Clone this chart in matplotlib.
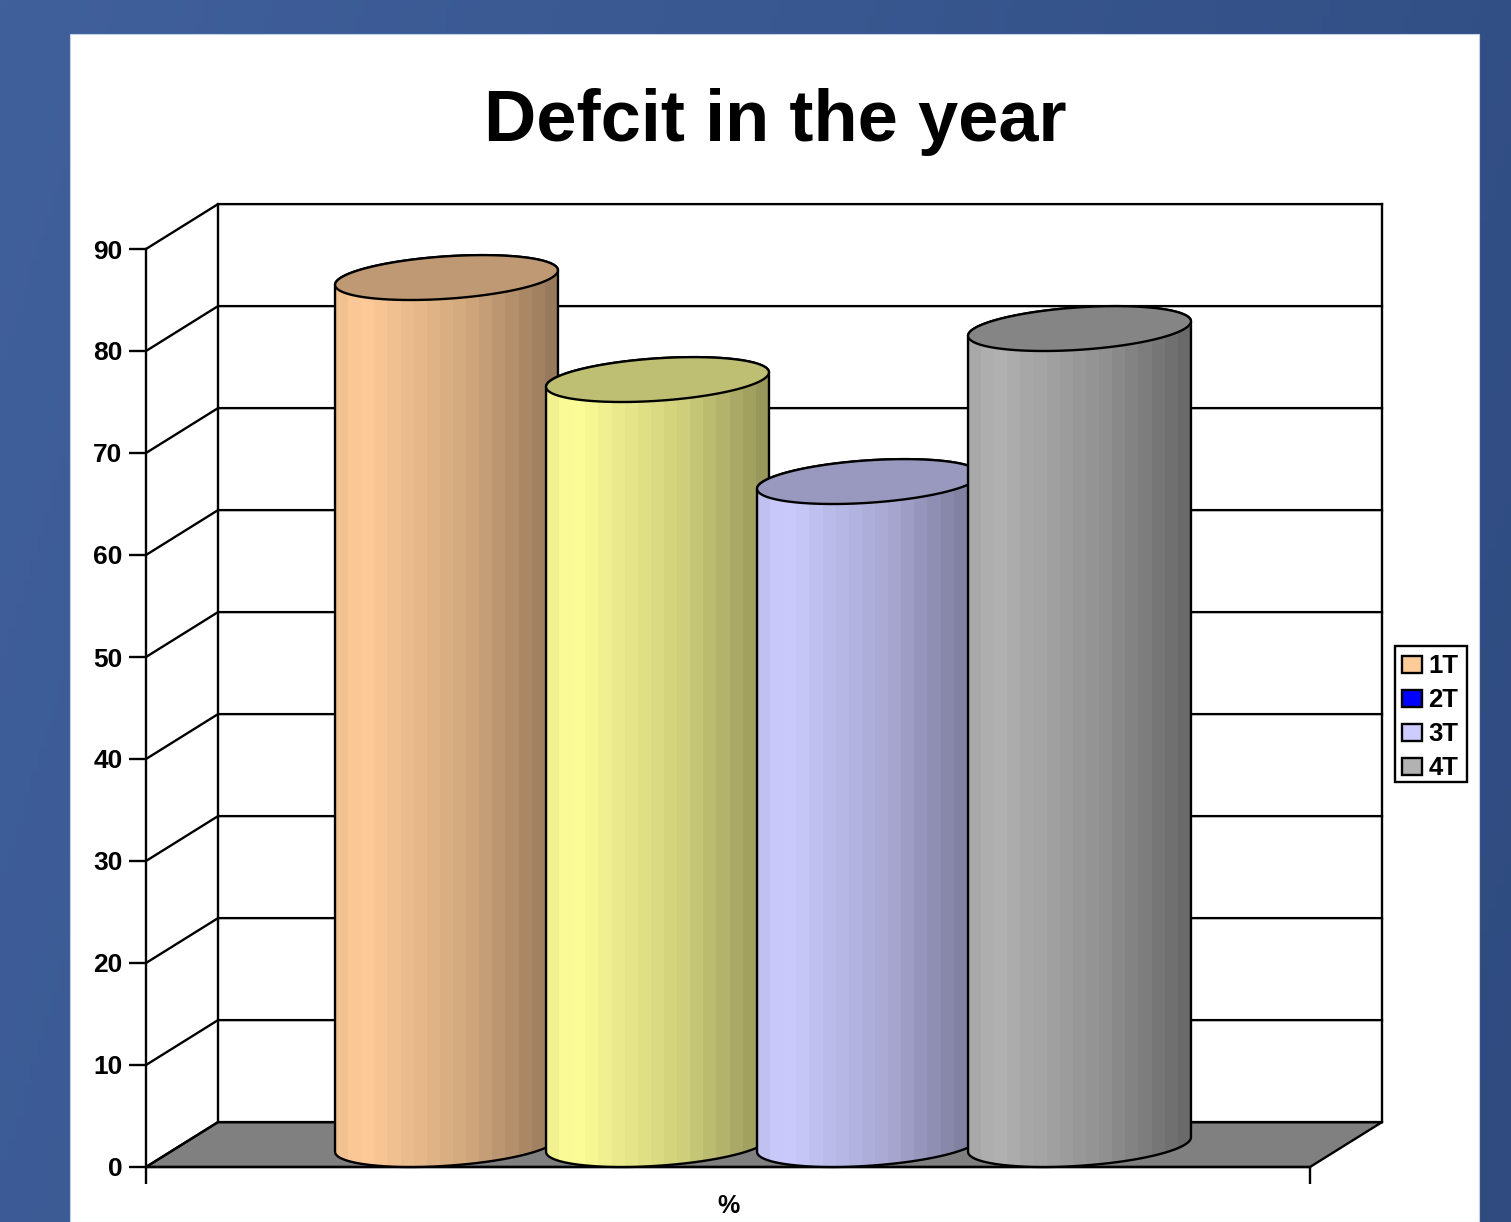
import numpy as np
import matplotlib
matplotlib.use("Agg")
import matplotlib.pyplot as plt
from matplotlib.patches import Patch, Polygon, Rectangle

plt.rcParams["font.family"] = ["Liberation Sans", "DejaVu Sans"]

# chart data
series_names = ["1T", "2T", "3T", "4T"]
series_values = [85, 75, 65, 80]
y_ticks = [0, 10, 20, 30, 40, 50, 60, 70, 80, 90]
x_label = "%"
chart_title = "Defcit in the year"

# styles
legend_colors = ["#FFCC99", "#0000FF", "#CCCCFF", "#B2B2B2"]
bar_colors = ["#FFCC99", "#FFFF99", "#CCCCFF", "#B2B2B2"]
top_shade = 0.75
LW = 1.7

W, H = 1511, 1222
fig = plt.figure(figsize=(W / 100, H / 100), dpi=100)


def px_box(left, top, right, bottom):
    """pixel box -> figure fraction rect"""
    return [left / W, 1 - bottom / H, (right - left) / W, (bottom - top) / H]


# blue slide background and white panel
bg = fig.add_axes([0, 0, 1, 1])
xx, yy = np.meshgrid(np.linspace(0, 1, 200), np.linspace(0, 1, 160))
mix = (xx * 0.8 + yy * 0.2)[..., None]
grad = (1 - mix) * np.array([0x40, 0x60, 0x9C]) / 255 + mix * np.array([0x2F, 0x4B, 0x80]) / 255
bg.imshow(grad, extent=[0, W, H, 0], aspect="auto")
bg.add_patch(Rectangle((70, 34), 1409, H - 34, facecolor="white", edgecolor="#C4D0E8", linewidth=0.8))
# legend frame
bg.add_patch(Rectangle((1395, 646), 72, 136, facecolor="white", edgecolor="black", linewidth=LW))
bg.set_xlim(0, W)
bg.set_ylim(H, 0)
bg.axis("off")

# front plane of the 3d box
ax = fig.add_axes(px_box(146, 249, 1310, 1167))
ax.patch.set_visible(False)
ax.set_xlim(0, 1)
ax.set_ylim(0, 90)

depth_x = 72 / 1164
depth_y = 4.4
bar_w = 211 / 1164
group_left = (1 - bar_w * len(series_values)) / 2 - 1 / 1164

# floor
ax.add_patch(Polygon([(0, 0), (depth_x, depth_y), (1 + depth_x, depth_y), (1, 0)],
                     closed=True, facecolor="#808080", edgecolor="black",
                     linewidth=LW, clip_on=False, zorder=1))

# side wall and back wall grid
for v in y_ticks:
    ax.plot([0, depth_x, 1 + depth_x], [v, v + depth_y, v + depth_y],
            color="black", linewidth=LW, clip_on=False, zorder=1.5)
ax.plot([depth_x, depth_x], [depth_y, 90 + depth_y], color="black", linewidth=LW, clip_on=False, zorder=1.5)
ax.plot([1 + depth_x, 1 + depth_x], [depth_y, 90 + depth_y], color="black", linewidth=LW, clip_on=False, zorder=1.5)

# cylinders, drawn left to right so each one overlaps the previous
a = bar_w / 2
b = depth_x / 2
theta0 = np.arctan2(b, a)
half_w = np.hypot(a, b)
shade_pos = [0.0, 0.12, 0.3, 0.6, 1.0]
shade_val = [0.93, 1.0, 0.93, 0.82, 0.58]
n_bands = 17

for i, val in enumerate(series_values):
    cx = group_left + bar_w * (i + 0.5) + depth_x / 2
    z = 3 + i
    base_c = np.array(matplotlib.colors.to_rgb(bar_colors[i]))

    t_low = np.linspace(theta0 + np.pi, theta0 + 2 * np.pi, 60)
    t_up = np.linspace(theta0, theta0 + np.pi, 60)
    low = np.c_[cx + a * np.cos(t_low) + b * np.sin(t_low), depth_y / 2 + depth_y / 2 * np.sin(t_low)]
    up = np.c_[cx + a * np.cos(t_up) + b * np.sin(t_up), val + depth_y / 2 + depth_y / 2 * np.sin(t_up)]
    body = Polygon(np.r_[low, up], closed=True, transform=ax.transData,
                   facecolor="none", edgecolor="black", linewidth=LW, clip_on=False, zorder=z + 0.2)

    # banded shading across the cylinder
    pos = (np.arange(n_bands) + 0.5) / n_bands
    strip = np.interp(pos, shade_pos, shade_val)[None, :, None] * base_c
    img = ax.imshow(strip, extent=[cx - half_w, cx + half_w, 0, val + depth_y],
                    aspect="auto", interpolation="nearest", origin="lower", zorder=z)
    ax.add_patch(body)
    img.set_clip_path(body)

    # top face
    t = np.linspace(0, 2 * np.pi, 120)
    top = np.c_[cx + a * np.cos(t) + b * np.sin(t), val + depth_y / 2 + depth_y / 2 * np.sin(t)]
    ax.add_patch(Polygon(top, closed=True, facecolor=base_c * top_shade, edgecolor="black",
                         linewidth=LW, clip_on=False, zorder=z + 0.4))

ax.set_xlim(0, 1)
ax.set_ylim(0, 90)

# axes
for side in ["top", "right"]:
    ax.spines[side].set_visible(False)
for side in ["left", "bottom"]:
    ax.spines[side].set_linewidth(LW)
    ax.spines[side].set_zorder(2)
ax.set_yticks(y_ticks)
ax.set_yticklabels([str(v) for v in y_ticks], fontsize=19, fontweight="bold")
ax.set_xticks([0, 1])
ax.set_xticklabels(["", ""])
ax.tick_params(axis="both", length=12, width=LW, color="black")
ax.tick_params(axis="y", pad=5)
ax.set_xlabel(x_label, fontsize=18, fontweight="bold", labelpad=4)

fig.text(775 / W, 1 - 122 / H, chart_title, fontsize=52, fontweight="bold",
         ha="center", va="center", color="black")

# legend
handles = [Patch(facecolor=c, edgecolor="black", linewidth=LW) for c in legend_colors]
leg = ax.legend(handles, series_names, loc="upper left",
                bbox_to_anchor=(1395 / W, 1 - 647 / H), bbox_transform=fig.transFigure,
                prop={"size": 18.5, "weight": "bold"}, frameon=False, borderaxespad=0, borderpad=0.28,
                handlelength=0.78, handleheight=0.66, handletextpad=0.24, labelspacing=0.39)
leg.set_zorder(10)

fig.savefig("out.png", dpi=100)
